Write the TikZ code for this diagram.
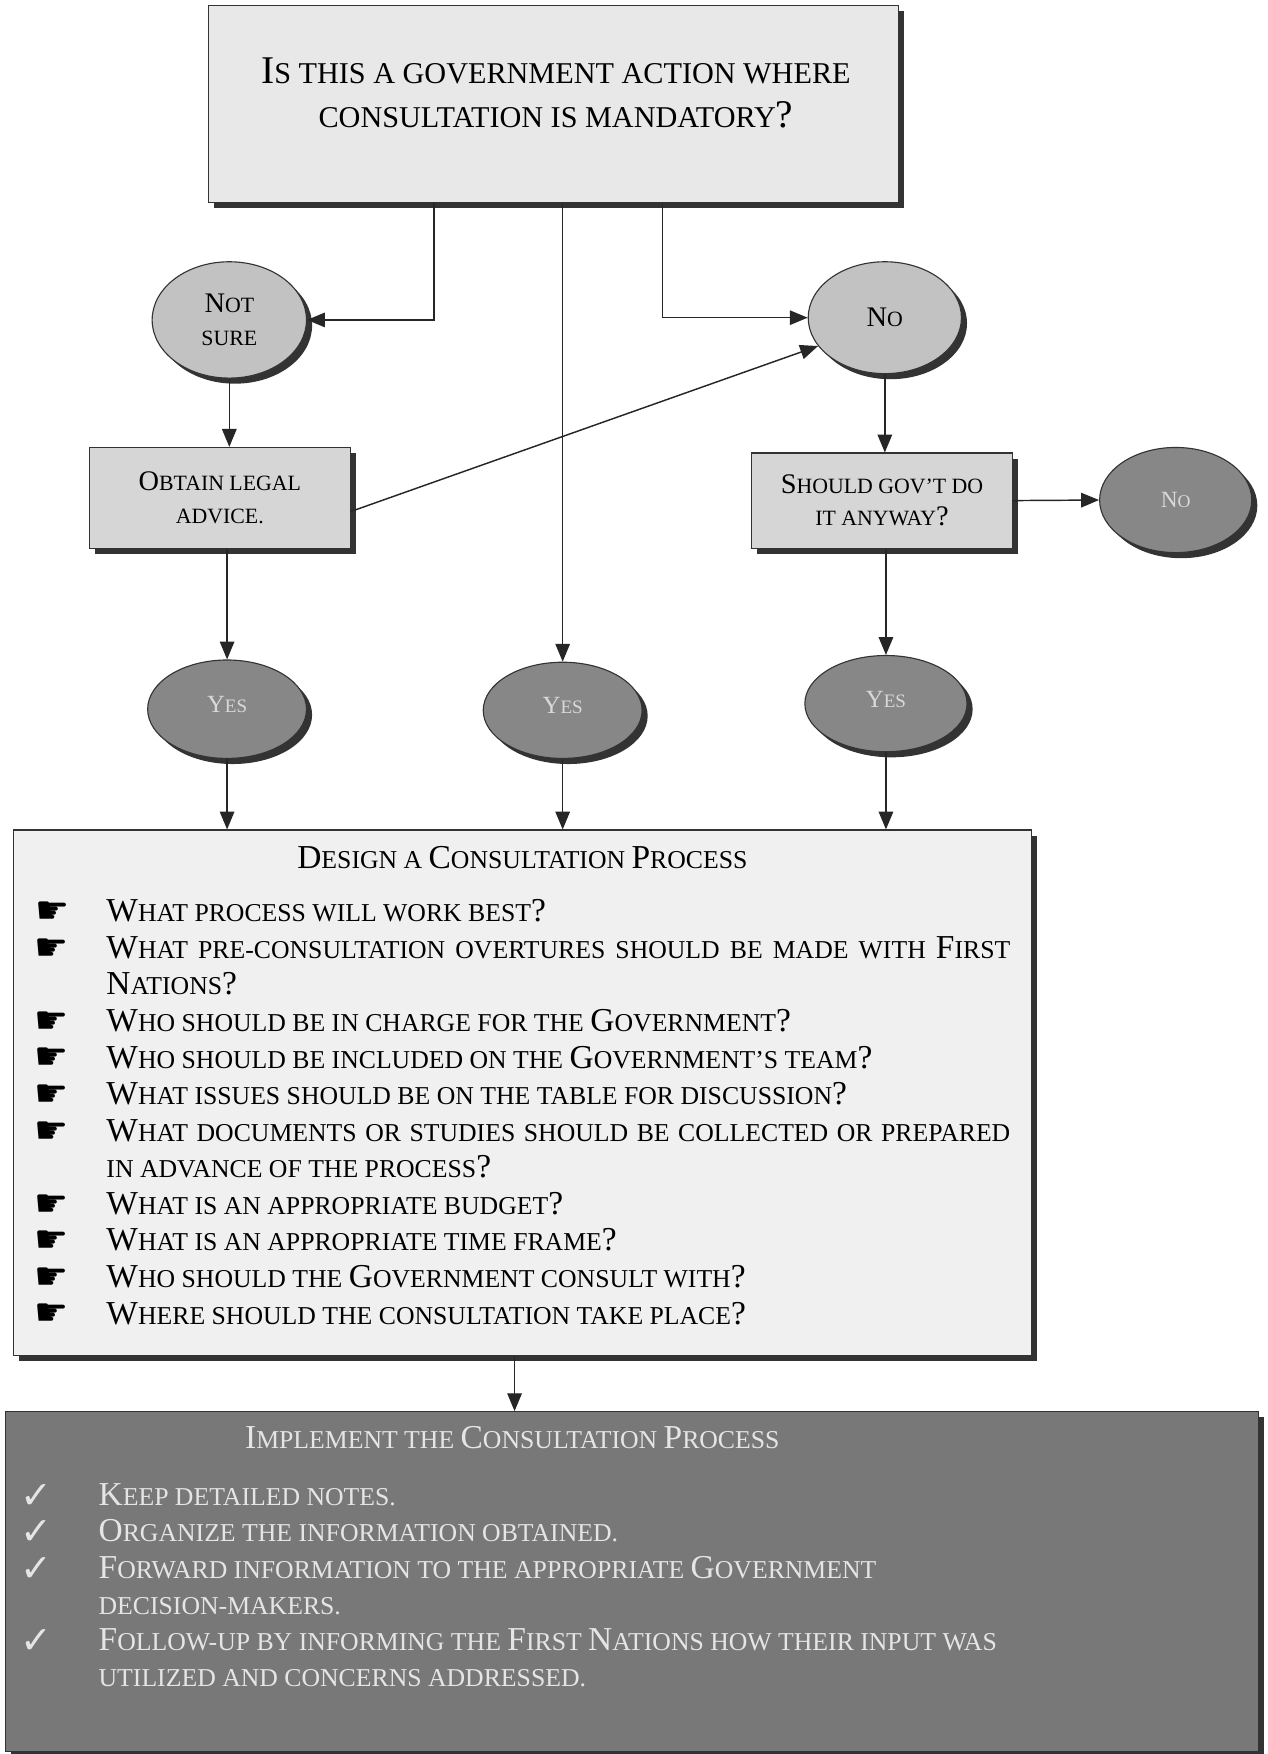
\documentclass[tikz,border=0pt]{standalone}
\usepackage{fontspec}
\usepackage{graphicx}
\setmainfont{Liberation Serif}
\newfontfamily\symf{DejaVu Sans}
\usetikzlibrary{shapes.geometric,shadows,arrows.meta,calc}
\newcommand\B[1]{\scalebox{1.3}{#1}}
\newcommand\fsz[2]{\fontsize{#1}{#2}\selectfont}
\definecolor{topfill}{gray}{0.91}
\definecolor{lightoval}{gray}{0.76}
\definecolor{midbox}{gray}{0.84}
\definecolor{darkoval}{gray}{0.53}
\definecolor{designfill}{gray}{0.94}
\definecolor{implfill}{gray}{0.47}
\definecolor{impltext}{gray}{0.90}
\tikzset{
  arr/.style={line width=1.3pt, draw=black!85, -{Triangle[length=16pt,width=13pt]}},
  shad/.style={drop shadow={shadow xshift=5pt, shadow yshift=-5pt, fill=black!80, opacity=1}},
  box/.style={rectangle, draw=black!80, line width=1pt, inner sep=0pt, shad, align=center},
  oval/.style={ellipse, draw=black!80, line width=1pt, inner sep=0pt, shad, align=center},
  smalltext/.style={font={\fsz{19.5}{29}}},
  dtext/.style={anchor=base west, inner sep=0pt, font={\fsz{23}{28}}},
  itext/.style={anchor=base west, inner sep=0pt, font={\fsz{23}{28}}, text=impltext},
  bul/.style={anchor=center, inner sep=0pt, font={\symf\fsz{34}{34}}},
  chk/.style={anchor=center, inner sep=0pt, font={\symf\fsz{34}{34}}, text=impltext},
}
\begin{document}
\begin{tikzpicture}[x=1pt,y=-1pt]
\useasboundingbox (0,0) rectangle (1133,1568);
% main boxes
\node[box, fill=topfill, minimum width=617pt, minimum height=176pt] (top) at (494.5,93) {};
\node[align=center, inner sep=0pt, font={\fsz{27}{40}}] (toptext) at (497,83)
  {\B{I}S THIS A GOVERNMENT ACTION WHERE\\CONSULTATION IS MANDATORY\B{?}};
% ovals and small boxes
\node[oval, fill=lightoval, minimum width=138pt, minimum height=104pt, smalltext] (notsure) at (205,286) {\B{N}OT\\SURE};
\node[oval, fill=lightoval, minimum width=137pt, minimum height=100pt, smalltext] (no) at (791,284) {\B{N}O};
\node[box, fill=midbox, minimum width=233pt, minimum height=90pt, smalltext] (obtain) at (196.5,445) {\B{O}BTAIN LEGAL\\ADVICE.};
\node[box, fill=midbox, minimum width=233pt, minimum height=85pt, smalltext] (should) at (788.5,447.5) {\B{S}HOULD GOV'T DO\\IT ANYWAY\B{?}};
\node[oval, fill=darkoval, minimum width=136pt, minimum height=94pt, font={\fsz{16}{20}}, text=black!15] (darkno) at (1051,447) {\B{N}O};
\node[oval, fill=darkoval, minimum width=142pt, minimum height=88pt, font={\fsz{17}{20}}, text=black!15] (yesL) at (203,634) {\raisebox{8pt}{\B{Y}ES}};
\node[oval, fill=darkoval, minimum width=142pt, minimum height=86pt, font={\fsz{17}{20}}, text=black!15] (yesM) at (503,635) {\raisebox{8pt}{\B{Y}ES}};
\node[oval, fill=darkoval, minimum width=145pt, minimum height=86pt, font={\fsz{17}{20}}, text=black!15] (yesR) at (792,629) {\raisebox{8pt}{\B{Y}ES}};
% design box
\node[box, fill=designfill, minimum width=910pt, minimum height=470pt] (design) at (467,977) {};
\node[anchor=base, inner sep=0pt, font={\fsz{23}{28}}] (dtitle) at (467,776) {\B{D}ESIGN A \B{C}ONSULTATION \B{P}ROCESS};
\node[dtext] (d0) at (95,824) {\B{W}HAT PROCESS WILL WORK BEST\B{?}};
\node[dtext] (d1) at (95,856.7) {\makebox[808pt][s]{\B{W}HAT PRE-CONSULTATION OVERTURES SHOULD BE MADE WITH \B{F}IRST}};
\node[dtext] (d2) at (95,889.4) {\B{N}ATIONS\B{?}};
\node[dtext] (d3) at (95,922.1) {\B{W}HO SHOULD BE IN CHARGE FOR THE \B{G}OVERNMENT\B{?}};
\node[dtext] (d4) at (95,954.8) {\B{W}HO SHOULD BE INCLUDED ON THE \B{G}OVERNMENT'S TEAM\B{?}};
\node[dtext] (d5) at (95,987.5) {\B{W}HAT ISSUES SHOULD BE ON THE TABLE FOR DISCUSSION\B{?}};
\node[dtext] (d6) at (95,1020.2) {\makebox[808pt][s]{\B{W}HAT DOCUMENTS OR STUDIES SHOULD BE COLLECTED OR PREPARED}};
\node[dtext] (d7) at (95,1052.9) {IN ADVANCE OF THE PROCESS\B{?}};
\node[dtext] (d8) at (95,1085.6) {\B{W}HAT IS AN APPROPRIATE BUDGET\B{?}};
\node[dtext] (d9) at (95,1118.3) {\B{W}HAT IS AN APPROPRIATE TIME FRAME\B{?}};
\node[dtext] (d10) at (95,1151) {\B{W}HO SHOULD THE \B{G}OVERNMENT CONSULT WITH\B{?}};
\node[dtext] (d11) at (95,1183.7) {\B{W}HERE SHOULD THE CONSULTATION TAKE PLACE\B{?}};
\node[bul] (p0) at (47,816) {☛};
\node[bul] (p1) at (46,848.7) {☛};
\node[bul] (p3) at (46,914.1) {☛};
\node[bul] (p4) at (46,946.8) {☛};
\node[bul] (p5) at (46,979.5) {☛};
\node[bul] (p6) at (46,1012.2) {☛};
\node[bul] (p8) at (46,1077.6) {☛};
\node[bul] (p9) at (46,1110.3) {☛};
\node[bul] (p10) at (46,1143) {☛};
\node[bul] (p11) at (46,1175.7) {☛};
% implement box
\node[box, fill=implfill, minimum width=1120pt, minimum height=304pt] (impl) at (565,1414) {};
\node[anchor=base, inner sep=0pt, font={\fsz{23}{28}}, text=impltext] (ititle) at (458,1295) {\B{I}MPLEMENT THE \B{C}ONSULTATION \B{P}ROCESS};
\node[itext] (i0) at (88,1346) {\B{K}EEP DETAILED NOTES.};
\node[itext] (i1) at (88,1378.4) {\B{O}RGANIZE THE INFORMATION OBTAINED.};
\node[itext] (i2) at (88,1410.8) {\B{F}ORWARD INFORMATION TO THE APPROPRIATE \B{G}OVERNMENT};
\node[itext] (i3) at (88,1443.2) {DECISION-MAKERS.};
\node[itext] (i4) at (88,1475.6) {\B{F}OLLOW-UP BY INFORMING THE \B{F}IRST \B{N}ATIONS HOW THEIR INPUT WAS};
\node[itext] (i5) at (88,1508) {UTILIZED AND CONCERNS ADDRESSED.};
\node[chk] (k0) at (33,1338) {✓};
\node[chk] (k1) at (33,1370.4) {✓};
\node[chk] (k2) at (33,1402.8) {✓};
\node[chk] (k4) at (33,1467.6) {✓};
% connectors
\coordinate (cL) at (388,0);
\coordinate (cR) at (592,0);
\coordinate (cD) at (460,0);
\draw[arr] (top.south -| cL) |- (notsure.east);
\draw[arr] (top.south -| cR) |- (no.west);
\draw[arr] (top.south -| yesM) -- (yesM.north);
\draw[arr] (notsure.south) -- (notsure.south |- obtain.north);
\draw[arr] (obtain.-6) -- (no.203);
\draw[arr] (no.south) -- (no.south |- should.north);
\draw[arr] (should.east) -- (darkno.west);
\draw[arr] (obtain.south -| yesL) -- (yesL.north);
\draw[arr] (should.south -| yesR) -- (yesR.north);
\draw[arr] (yesL.south) -- (yesL.south |- design.north);
\draw[arr] (yesM.south) -- (yesM.south |- design.north);
\draw[arr] (yesR.south) -- (yesR.south |- design.north);
\draw[arr] (design.south -| cD) -- (impl.north -| cD);
\end{tikzpicture}
\end{document}
